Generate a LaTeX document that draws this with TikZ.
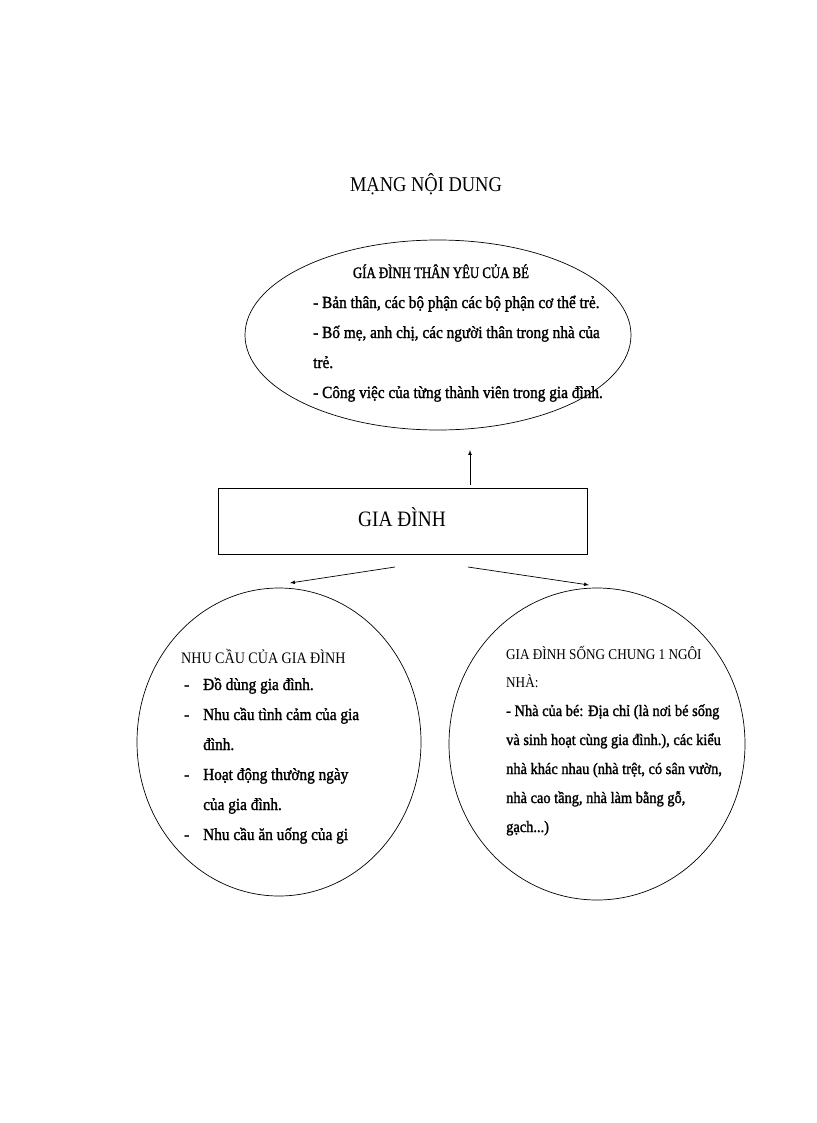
\documentclass[tikz,border=0pt]{standalone}
\usepackage{fontspec}
\setmainfont{Liberation Serif}
\newfontfamily\cond[FakeStretch=0.88]{Liberation Serif}
\newfontfamily\condb[FakeStretch=0.9,FakeBold=1.5]{Liberation Serif}
\newfontfamily\condh[FakeStretch=0.8,FakeBold=1.5]{Liberation Serif}
\begin{document}
\begin{tikzpicture}[x=1pt,y=-1pt,
  shp/.style={draw,line width=0.7pt},
  arr/.style={draw,line width=0.7pt,-latex},
  txt/.style={anchor=base west,align=left,inner sep=0pt}]
\useasboundingbox (0,0) rectangle (816,1123);
\node[anchor=base,inner sep=0pt,font=\cond\fontsize{21}{21}\selectfont] (title) at (426,192) {MẠNG NỘI DUNG};
\draw[shp] (438,335) ellipse [x radius=193, y radius=95];
\node[anchor=base,inner sep=0pt,font=\condh\fontsize{16}{16}\selectfont] (h1) at (441,278) {GÍA ĐÌNH THÂN YÊU CỦA BÉ};
\node[txt,font=\condb\fontsize{17}{30}\selectfont] (t1) at (313,398) {- Bản thân, các bộ phận các bộ phận cơ thể trẻ.\\- Bố mẹ, anh chị, các người thân trong nhà của\\trẻ.\\- Công việc của từng thành viên trong gia đình.};
\node[shp,minimum width=369,minimum height=66,anchor=north west,inner sep=0pt] (box) at (218,488) {};
\node[anchor=base,inner sep=0pt,font=\cond\fontsize{22}{22}\selectfont] at (402,526) {GIA ĐÌNH};
\coordinate (up0) at (470,485);
\coordinate (up1) at (470,450);
\draw[arr] (up0) -- (up1);
\coordinate (l0) at (395,567);
\coordinate (l1) at (290,583);
\coordinate (r0) at (468,567);
\coordinate (r1) at (589,585);
\draw[arr] (l0) -- (l1);
\draw[arr] (r0) -- (r1);
\draw[shp] (279,742) ellipse [x radius=142, y radius=154];
\draw[shp] (597,744) ellipse [x radius=148, y radius=156];
\node[txt,font=\cond\fontsize{16}{16}\selectfont] (h2) at (181,663) {NHU CẦU CỦA GIA ĐÌNH};
\node[txt,font=\condb\fontsize{17}{30}\selectfont] (t2) at (184,840) {\makebox[19pt][l]{-}Đồ dùng gia đình.\\\makebox[19pt][l]{-}Nhu cầu tình  cảm của gia\\\hspace*{19pt}đình.\\\makebox[19pt][l]{-}Hoạt động thường ngày\\\hspace*{19pt}của gia đình.\\\makebox[19pt][l]{-}Nhu cầu ăn uống của gi};
\node[txt,font=\cond\fontsize{15}{28}\selectfont] (h3) at (506,687) {GIA ĐÌNH SỐNG CHUNG 1 NGÔI\\NHÀ:};
\node[txt,font=\condb\fontsize{16}{29}\selectfont] (t3) at (506,832) {- Nhà của bé: Địa chỉ (là nơi bé sống\\và sinh hoạt cùng gia đình.), các kiểu\\nhà khác nhau (nhà trệt, có sân vườn,\\nhà cao tầng, nhà làm bằng gỗ,\\gạch...)};
\end{tikzpicture}
\end{document}
